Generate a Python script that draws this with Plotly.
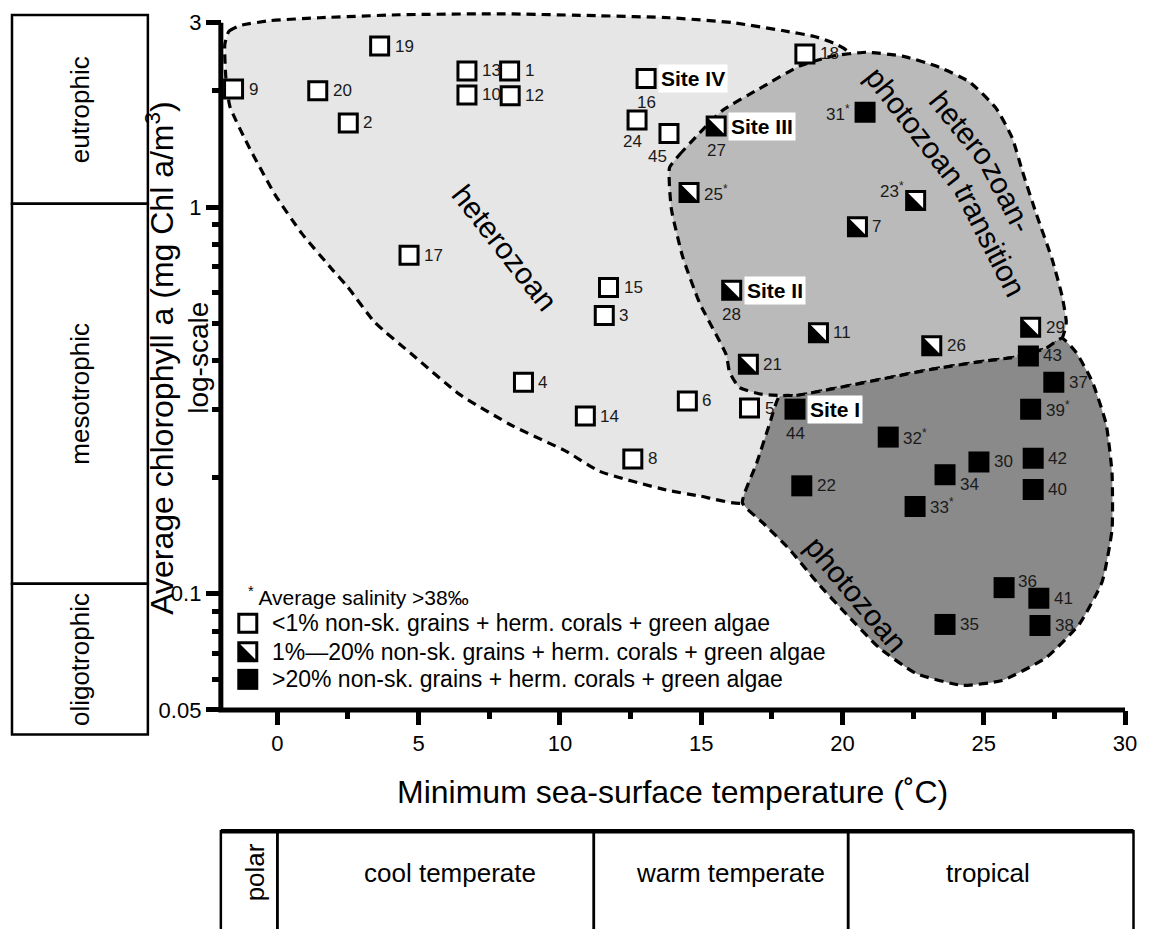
import numpy as np
import plotly.graph_objects as go

W, H = 1150, 929
FONT = "Liberation Sans, Arial, Helvetica, sans-serif"

# ---------------- data ----------------
SAMPLE_ID = [1, 2, 3, 4, 5, 6, 7, 8, 9, 10,
             11, 12, 13, 14, 15, 16, 17, 18, 19, 20,
             21, 22, 23, 24, 25, 26, 27, 28, 29, 30,
             31, 32, 33, 34, 35, 36, 37, 38, 39, 40,
             41, 42, 43, 44, 45]
MIN_SST = [8.22, 2.51, 11.57, 8.71, 16.71, 14.51, 20.53, 12.58, -1.55, 6.71,
           19.15, 8.24, 6.71, 10.90, 11.72, 13.05, 4.66, 18.67, 3.62, 1.43,
           16.67, 18.56, 22.59, 12.73, 14.57, 23.16, 15.53, 16.08, 26.66, 24.83,
           20.80, 21.62, 22.57, 23.63, 23.63, 25.72, 27.48, 26.99, 26.66, 26.75,
           26.95, 26.75, 26.58, 18.32, 13.86]
CHL_A = [2.25, 1.65, 0.524, 0.352, 0.302, 0.315, 0.889, 0.223, 2.02, 1.95,
         0.473, 1.94, 2.25, 0.288, 0.619, 2.15, 0.75, 2.49, 2.61, 2.0,
         0.392, 0.190, 1.04, 1.68, 1.09, 0.438, 1.62, 0.609, 0.489, 0.219,
         1.76, 0.254, 0.168, 0.203, 0.0832, 0.1036, 0.352, 0.0827, 0.30, 0.186,
         0.0973, 0.224, 0.412, 0.30, 1.55]
# 0: <1 %, 1: 1-20 %, 2: >20 % non-skeletal grains + herm. corals + green algae
GRAIN_CLASS = [0, 0, 0, 0, 0, 0, 1, 0, 0, 0,
               1, 0, 0, 0, 0, 0, 0, 0, 0, 0,
               1, 2, 1, 0, 1, 1, 1, 1, 1, 2,
               2, 2, 2, 2, 2, 2, 2, 2, 2, 2,
               2, 2, 2, 2, 0]
HIGH_SALINITY = [23, 25, 31, 32, 33, 39]
SITES = {16: "Site IV", 27: "Site III", 28: "Site II", 44: "Site I"}

# association fields (outline vertices: temperature, chlorophyll)
HETERO_T = [-1.86, -1.72, -1.33, -0.27, 1.50, 4.33, 7.87, 11.40, 13.88, 16.11, 17.87, 19.01,
            19.71, 20.17, 20.07, 18.83, 18.12, 17.24, 16.46, 14.94, 13.77, 11.40, 10.24, 8.33,
            6.45, 4.79, 3.45, 2.46, 1.93, 0.87, -0.09, -1.04, -1.68, -1.82]
HETERO_C = [2.636, 2.846, 2.947, 3.035, 3.089, 3.144, 3.162, 3.126, 3.089, 3.0, 2.862, 2.763,
            2.651, 2.53, 1.909, 0.79, 0.368, 0.217, 0.1717, 0.1789, 0.1853, 0.2072, 0.233, 0.2715,
            0.3276, 0.4143, 0.5029, 0.625, 0.691, 0.8535, 1.079, 1.447, 1.82, 2.146]
TRANS_T = [13.88, 14.23, 14.94, 15.75, 17.06, 18.48, 19.64, 20.84, 22.12, 23.32, 24.49, 25.44,
           26.01, 26.36, 26.86, 27.42, 27.77, 27.92, 27.77, 27.21, 26.15, 24.85, 23.07, 21.30,
           19.54, 18.37, 17.17, 16.35, 16.00, 15.89, 14.94, 14.34, 13.95, 13.88]
TRANS_C = [1.265, 1.365, 1.554, 1.778, 2.024, 2.316, 2.457, 2.515, 2.457, 2.316, 2.109, 1.80,
           1.509, 1.243, 0.960, 0.7324, 0.5894, 0.5029, 0.4577, 0.4317, 0.4096, 0.3978, 0.3794,
           0.3577, 0.3374, 0.3256, 0.3276, 0.3413, 0.375, 0.4143, 0.5656, 0.7454, 0.9825, 1.125]
PHOTO_T = [17.77, 18.37, 19.54, 21.30, 23.07, 24.85, 26.15, 27.21, 27.77, 28.26, 28.84, 29.33,
           29.54, 29.54, 29.19, 28.38, 27.21, 25.65, 24.24, 22.61, 21.30, 20.14, 19.08, 18.12,
           17.17, 16.46, 16.96, 17.42]
PHOTO_C = [0.3237, 0.3256, 0.3374, 0.3577, 0.3794, 0.3978, 0.4096, 0.4317, 0.4577, 0.4217,
           0.3535, 0.2747, 0.2048, 0.1465, 0.1073, 0.0833, 0.0683, 0.0596, 0.0579, 0.0621,
           0.0724, 0.0884, 0.1073, 0.1302, 0.1527, 0.1717, 0.2172, 0.2747]

# region labels: text, temperature, chlorophyll, angle
REGION_TEXT = ["heterozoan", "photozoan", "photozoan", "transition", "hetero", "zoan-"]
REGION_T = [8.04, 20.49, 22.58, 25.23, 24.26, 25.85]
REGION_C = [0.786, 0.0994, 1.619, 0.819, 1.60, 1.06]
REGION_ANGLE = [52, 50, 52, 63, 51, 63]

TROPHIC_EDGES = [0.0432, 0.106, 1.02, 3.14]
TROPHIC_NAMES = ["oligotrophic", "mesotrophic", "eutrophic"]
CLIMATE_EDGES = [-2.0, 0.0, 11.2, 20.2, 30.3]
CLIMATE_NAMES = ["polar", "cool temperate", "warm temperate", "tropical"]
CLIMATE_LABEL_T = [-0.8, 6.1, 16.05, 25.15]

X_TICKS = [0, 5, 10, 15, 20, 25, 30]
X_MINOR = [2.5, 7.5, 12.5, 17.5, 22.5, 27.5]
Y_TICKS = [0.05, 0.1, 1, 3]
Y_TICKTEXT = ["0.05", "0.1", "1", "3"]
Y_MINOR = [0.06, 0.07, 0.08, 0.09, 0.2, 0.3, 0.4, 0.5, 0.6, 0.7, 0.8, 0.9, 2]

LEGEND_ROWS = ["&lt;1% non-sk. grains + herm. corals + green algae",
               "1%\u201420% non-sk. grains + herm. corals + green algae",
               "&gt;20% non-sk. grains + herm. corals + green algae"]

# ---------------- geometry ----------------
X_RANGE = [-2.1, 30.4]
X_AXIS_START, X_AXIS_END = -2.0, 30.0
Y_MIN, Y_MAX, Y_AXIS_TOP = 0.05, 3.3, 3.0
PX_PER_DEG = 28.28
PX_PER_DEC = 392.0
X0_PX = 277.6
YBOT_PX = 720.0

xdom = [(X0_PX + X_RANGE[0] * PX_PER_DEG) / W, (X0_PX + X_RANGE[1] * PX_PER_DEG) / W]
yr = [np.log10(Y_MIN), np.log10(Y_MAX)]
ydom = [1 - YBOT_PX / H, 1 - (YBOT_PX - (yr[1] - yr[0]) * PX_PER_DEC) / H]
y2r = [yr[0] - (H - YBOT_PX) / PX_PER_DEC, yr[0] + YBOT_PX / PX_PER_DEC]
yaxis_pos = (X0_PX + X_AXIS_START * PX_PER_DEG) / W


def px(xp):
    return xp / W


def py(yp):
    return 1 - yp / H


fig = go.Figure()

# association fields
for xs, ys, col in [(HETERO_T, HETERO_C, "#e6e6e6"),
                    (TRANS_T, TRANS_C, "#bababa"),
                    (PHOTO_T, PHOTO_C, "#8a8a8a")]:
    fig.add_trace(go.Scatter(
        x=xs + [xs[0]], y=ys + [ys[0]], mode="lines", fill="toself", fillcolor=col,
        line=dict(color="black", width=3.2, dash="9px,6px", shape="spline", smoothing=0.5),
        hoverinfo="skip", showlegend=False))

tt = np.array(MIN_SST)
cc = np.array(CHL_A)
gc = np.array(GRAIN_CLASS)

open_mask = gc < 2
fig.add_trace(go.Scatter(
    x=tt[open_mask], y=cc[open_mask], mode="markers",
    marker=dict(symbol="square", size=18, color="white", line=dict(color="black", width=3)),
    hoverinfo="skip", showlegend=False))
black_mask = gc == 2
fig.add_trace(go.Scatter(
    x=tt[black_mask], y=cc[black_mask], mode="markers",
    marker=dict(symbol="square", size=21, color="black", line=dict(width=0)),
    hoverinfo="skip", showlegend=False))

# dummy trace for the helper subplot used by the trophic boxes
fig.add_trace(go.Scatter(x=[None], y=[None], xaxis="x2", yaxis="y2",
                         mode="markers", showlegend=False, hoverinfo="skip"))

shapes = []
HALF = 9
TRI_PATH = f"M{-HALF},{HALF} L{-HALF},{-HALF} L{HALF},{-HALF} Z"
for t, c, g in zip(MIN_SST, CHL_A, GRAIN_CLASS):
    if g == 1:
        shapes.append(dict(type="path", xref="x", yref="y", xsizemode="pixel", ysizemode="pixel",
                           xanchor=t, yanchor=c, path=TRI_PATH, fillcolor="black",
                           line=dict(width=0), layer="above"))

# axis lines
shapes.append(dict(type="line", xref="x", yref="y domain", x0=X_RANGE[0] + 0.01, x1=X_AXIS_END,
                   y0=0, y1=0, line=dict(color="black", width=5)))
shapes.append(dict(type="line", xref="paper", yref="y", x0=yaxis_pos, x1=yaxis_pos,
                   y0=Y_MIN, y1=Y_AXIS_TOP, line=dict(color="black", width=5)))

# trophic boxes (left)
for lo, hi in zip(TROPHIC_EDGES[:-1], TROPHIC_EDGES[1:]):
    shapes.append(dict(type="rect", xref="paper", yref="y2", x0=px(12), x1=px(148),
                       y0=lo, y1=hi, line=dict(color="black", width=2.5)))

# climate boxes (bottom)
for lo, hi in zip(CLIMATE_EDGES[:-1], CLIMATE_EDGES[1:]):
    shapes.append(dict(type="rect", xref="x", yref="paper", x0=lo, x1=hi,
                       y0=-0.05, y1=py(843), line=dict(color="black", width=2.5)))
shapes.append(dict(type="line", xref="x", yref="paper", x0=CLIMATE_EDGES[0], x1=CLIMATE_EDGES[-1],
                   y0=py(843), y1=py(843), line=dict(color="black", width=4.5)))

# legend symbols
LEG_X = 248
LEG_Y = [632, 661, 689]
for i, yy in enumerate(LEG_Y):
    common = dict(xref="paper", yref="paper", xsizemode="pixel", ysizemode="pixel",
                  xanchor=px(LEG_X), yanchor=py(yy))
    if i < 2:
        shapes.append(dict(type="rect", x0=-HALF, x1=HALF, y0=-HALF, y1=HALF,
                           fillcolor="white", line=dict(color="black", width=3), **common))
        if i == 1:
            shapes.append(dict(type="path", path=TRI_PATH, fillcolor="black",
                               line=dict(width=0), **common))
    else:
        shapes.append(dict(type="rect", x0=-10.5, x1=10.5, y0=-10.5, y1=10.5,
                           fillcolor="black", line=dict(width=0), **common))

annotations = []


def ann(**kw):
    base = dict(showarrow=False, xanchor="center", yanchor="middle")
    base.update(kw)
    annotations.append(base)


# point labels
LABEL_POS = {16: "b", 24: "bl", 45: "bll", 27: "b", 28: "b", 44: "b",
             31: "l", 23: "tl", 34: "br", 36: "tr"}
LABEL_OFFSETS = {"r": (13, 0, "left"), "b": (0, -24, "center"), "bl": (-5, -22, "center"),
                 "bll": (-11, -23, "center"), "l": (-13, -1, "right"), "tl": (-10, 10, "right"),
                 "br": (13, -10, "left"), "tr": (12, 6, "left")}
for sid, t, c in zip(SAMPLE_ID, MIN_SST, CHL_A):
    dx, dy, anc = LABEL_OFFSETS[LABEL_POS.get(sid, "r")]
    txt = str(sid) + ("<sup>*</sup>" if sid in HIGH_SALINITY else "")
    ann(x=t, y=np.log10(c), xref="x", yref="y", text=txt,
        xanchor=anc, xshift=dx, yshift=dy,
        font=dict(family=FONT, size=17, color="#1a1a1a"))
    if sid in SITES:
        ann(x=t, y=np.log10(c), xref="x", yref="y", text=f"<b>{SITES[sid]}</b>",
            xanchor="left", xshift=12, bgcolor="white", borderpad=2,
            font=dict(family=FONT, size=21, color="black"))

# region labels
for txt, t, c, ang in zip(REGION_TEXT, REGION_T, REGION_C, REGION_ANGLE):
    ann(x=t, y=np.log10(c), xref="x", yref="y", text=txt, textangle=ang,
        font=dict(family=FONT, size=30, color="black"))

# trophic labels
for lo, hi, name in zip(TROPHIC_EDGES[:-1], TROPHIC_EDGES[1:], TROPHIC_NAMES):
    ann(x=px(80), y=0.5 * (np.log10(lo) + np.log10(hi)), xref="paper", yref="y2",
        text=name, textangle=-90, font=dict(family=FONT, size=26, color="black"))

# climate labels
for t, name in zip(CLIMATE_LABEL_T, CLIMATE_NAMES):
    ann(x=t, y=py(885), xref="x", yref="paper", text=name,
        textangle=-90 if name == "polar" else 0,
        font=dict(family=FONT, size=26, color="black"))

# axis titles
ann(x=px(X0_PX + 14.0 * PX_PER_DEG), y=py(803), xref="paper", yref="paper",
    text="Minimum sea-surface temperature (\u02daC)",
    font=dict(family=FONT, size=32, color="black"))
ann(x=px(160), y=py(363), xref="paper", yref="paper",
    text="Average chlorophyll a (mg Chl a/m<sup>3</sup>)", textangle=-90,
    font=dict(family=FONT, size=32, color="black"))
ann(x=px(199), y=py(363), xref="paper", yref="paper", text="log-scale", textangle=-90,
    font=dict(family=FONT, size=28, color="black"))

# legend texts
ann(x=px(246), y=py(604), xref="paper", yref="paper",
    text="<sup>*</sup> Average salinity &gt;38\u2030", xanchor="left",
    font=dict(family=FONT, size=21, color="black"))
for yy, txt in zip(LEG_Y, LEGEND_ROWS):
    ann(x=px(270), y=py(yy), xref="paper", yref="paper", text=txt, xanchor="left",
        font=dict(family=FONT, size=23, color="black"))

axis_common = dict(showgrid=False, zeroline=False, showline=False, ticks="outside",
                   tickcolor="black", tickwidth=4.5,
                   tickfont=dict(family=FONT, size=22, color="black"))

fig.update_layout(
    width=W, height=H, margin=dict(l=0, r=0, t=0, b=0),
    paper_bgcolor="white", plot_bgcolor="rgba(0,0,0,0)",
    showlegend=False,
    xaxis=dict(domain=xdom, range=X_RANGE, anchor="y", tickmode="array", tickvals=X_TICKS,
               ticklen=14,
               minor=dict(tickmode="array", tickvals=X_MINOR, ticks="outside", ticklen=8,
                          tickwidth=4.5, tickcolor="black"),
               **axis_common),
    yaxis=dict(domain=ydom, type="log", range=yr, anchor="free", position=yaxis_pos,
               tickmode="array", tickvals=Y_TICKS, ticktext=Y_TICKTEXT, ticklen=15,
               minor=dict(tickmode="array", tickvals=Y_MINOR, ticks="outside", ticklen=9,
                          tickwidth=4.5, tickcolor="black"),
               **axis_common),
    xaxis2=dict(domain=[0, 1], range=[0, 1], visible=False, anchor="y2"),
    yaxis2=dict(domain=[0, 1], type="log", range=y2r, visible=False, anchor="x2"),
    shapes=shapes,
    annotations=annotations,
)

fig.write_html("out.html")
